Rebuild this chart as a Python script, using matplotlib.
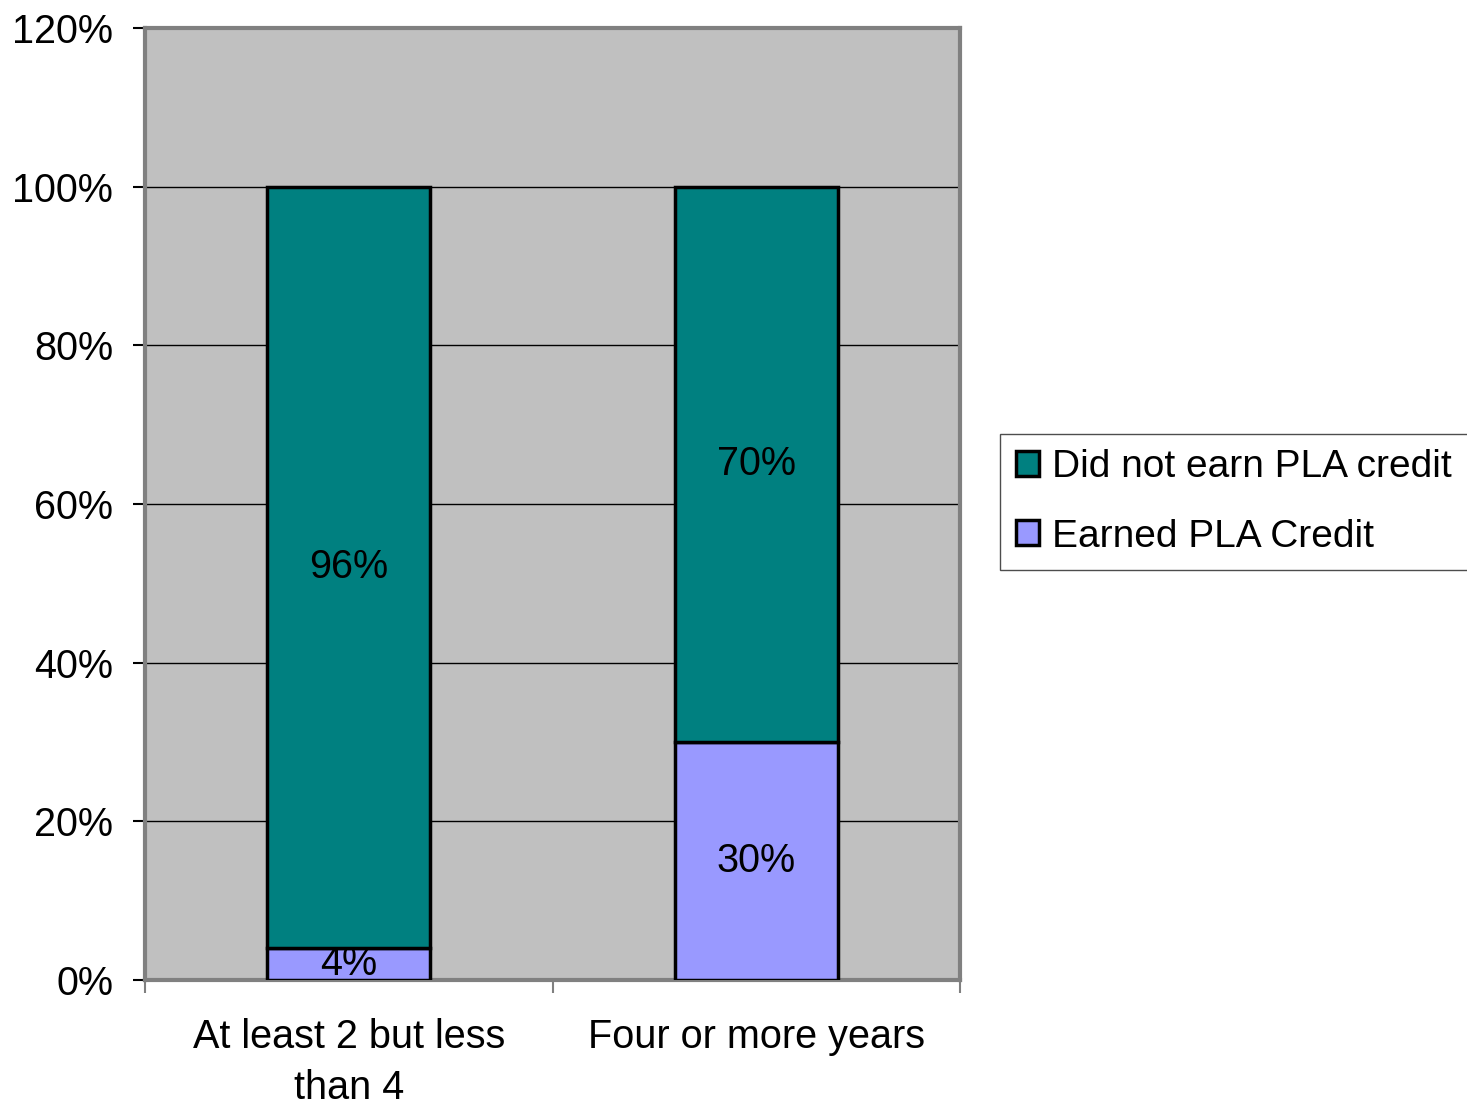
import matplotlib.pyplot as plt
from matplotlib.patches import Patch

plt.rcParams['font.family'] = ['Liberation Sans', 'DejaVu Sans']

categories = ['At least 2 but less\nthan 4', 'Four or more years']
earned = [0.04, 0.30]
not_earned = [0.96, 0.70]
earned_labels = ['4%', '30%']
not_earned_labels = ['96%', '70%']
yticks = [0, 0.2, 0.4, 0.6, 0.8, 1.0, 1.2]
ytick_labels = ['0%', '20%', '40%', '60%', '80%', '100%', '120%']

fig = plt.figure(figsize=(14.67, 11.08), dpi=100)
ax = fig.add_axes([145 / 1467, 1 - 980 / 1108, 815 / 1467, 952 / 1108])
ax.set_facecolor('#C0C0C0')

x = list(range(len(categories)))
ax.bar(x, earned, width=0.4, color='#9999FF', edgecolor='black', linewidth=2.5, zorder=3)
ax.bar(x, not_earned, bottom=earned, width=0.4, color='#008080', edgecolor='black', linewidth=2.5, zorder=3)

for i in x:
    ax.text(i, earned[i] / 2, earned_labels[i], ha='center', va='center', fontsize=28.5, zorder=4)
    ax.text(i, earned[i] + not_earned[i] / 2, not_earned_labels[i], ha='center', va='center',
            fontsize=28.5, zorder=4)

ax.set_xlim(-0.5, 1.5)
ax.set_ylim(0, 1.2)
ax.set_yticks(yticks)
ax.set_yticklabels(ytick_labels, fontsize=28.5)
ax.yaxis.grid(True, color='black', linewidth=1)
ax.set_axisbelow(True)

# category labels between boundary ticks
ax.set_xticks([-0.5, 0.5, 1.5])
ax.set_xticklabels([])
ax.set_xticks(x, minor=True)
ax.set_xticklabels(categories, minor=True, fontsize=28.5, linespacing=1.45)
ax.tick_params(axis='x', which='minor', length=0, pad=27)
ax.tick_params(axis='x', which='major', length=9, width=1.5, color='#808080', direction='out')
ax.tick_params(axis='y', length=9, width=1.5, color='black', pad=14)

for s in ax.spines.values():
    s.set_color('#808080')
    s.set_linewidth(3)

handles = [Patch(facecolor='#008080', edgecolor='black', linewidth=2.5, label='Did not earn PLA credit'),
           Patch(facecolor='#9999FF', edgecolor='black', linewidth=2.5, label='Earned PLA Credit')]
leg = fig.legend(handles=handles, loc='center left', bbox_to_anchor=(1000 / 1467, 1 - 502 / 1108),
                 fontsize=28, frameon=True, fancybox=False, edgecolor='#202020',
                 handlelength=0.6, handleheight=0.6, handletextpad=0.35, borderpad=0.4,
                 labelspacing=0.85, borderaxespad=0)
leg.get_frame().set_linewidth(1)

fig.savefig('out.png', dpi=100)
